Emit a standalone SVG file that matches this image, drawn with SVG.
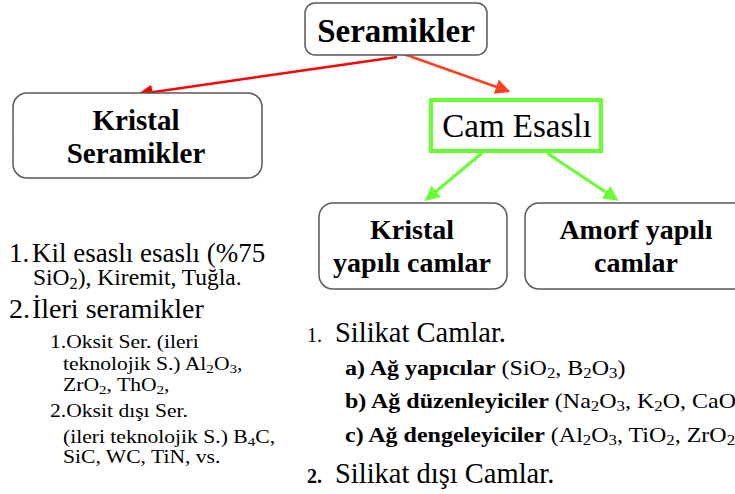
<svg xmlns="http://www.w3.org/2000/svg" width="735" height="494" viewBox="0 0 735 494" font-family="Liberation Serif, serif">
<style>
.box{fill:#fff;stroke:#5a5a5a;stroke-width:1.5}
.bt{font-weight:bold;text-anchor:middle}
.b{font-weight:bold}
.s{font-size:70%}
</style>
<defs>
<marker id="ar" markerWidth="6" markerHeight="6" refX="5" refY="3" orient="auto" markerUnits="strokeWidth"><path d="M0,0 L6,3 L0,6 z" fill="#ff0000"/></marker>
<marker id="ao" markerWidth="6" markerHeight="6" refX="5" refY="3" orient="auto" markerUnits="strokeWidth"><path d="M0,0 L6,3 L0,6 z" fill="#ff4020"/></marker>
<marker id="ag" markerWidth="5" markerHeight="5" refX="4" refY="2.5" orient="auto" markerUnits="strokeWidth"><path d="M0,0 L5,2.5 L0,5 z" fill="#66ff33"/></marker>
</defs>
<g id="connectors">
<line x1="397" y1="57" x2="140" y2="94" stroke="#ff0000" stroke-width="2.5" marker-end="url(#ar)"/>
<line x1="398" y1="52" x2="508" y2="91" stroke="#ff4020" stroke-width="2.5" marker-end="url(#ao)"/>
<line x1="482" y1="153" x2="427" y2="199" stroke="#66ff33" stroke-width="3" marker-end="url(#ag)"/>
<line x1="547" y1="153" x2="616" y2="199" stroke="#66ff33" stroke-width="3" marker-end="url(#ag)"/>
</g>
<g id="seramikler">
<rect class="box" x="305" y="3" width="182" height="52" rx="10"/>
<text class="bt" x="396" y="42" font-size="33">Seramikler</text>
</g>
<g id="kristal-seramikler">
<rect class="box" x="13" y="93" width="249" height="85" rx="14"/>
<text class="bt" x="136" y="130" font-size="29">Kristal</text>
<text class="bt" x="136" y="163" font-size="29">Seramikler</text>
</g>
<g id="cam-esasli">
<rect x="431" y="100" width="170" height="51" fill="#fff" stroke="#66ff33" stroke-width="4"/>
<text x="517" y="137" font-size="33" text-anchor="middle">Cam Esaslı</text>
</g>
<g id="kristal-yapili">
<rect class="box" x="319" y="203" width="188" height="86" rx="14"/>
<text class="bt" x="412" y="239" font-size="28">Kristal</text>
<text class="bt" x="412" y="272" font-size="28">yapılı camlar</text>
</g>
<g id="amorf-yapili">
<rect class="box" x="525" y="203" width="225" height="86" rx="14"/>
<text class="bt" x="636" y="239" font-size="28">Amorf yapılı</text>
<text class="bt" x="636" y="272" font-size="28">camlar</text>
</g>
<g id="left-list">
<text x="9" y="262" font-size="27">1.</text>
<text x="32" y="262" font-size="27">Kil esaslı esaslı (%75</text>
<text x="33" y="285" font-size="23.5">SiO<tspan class="s" dy="4">2</tspan><tspan dy="-4">), Kiremit, Tuğla.</tspan></text>
<text x="9" y="318" font-size="28">2.</text>
<text x="32" y="318" font-size="28">İleri seramikler</text>
<g transform="scale(1.2,1)" font-size="18">
<text x="41.7" y="348">1.Oksit Ser. (ileri</text>
<text x="52.5" y="370">teknolojik S.) Al<tspan class="s" dy="3">2</tspan><tspan dy="-3">O</tspan><tspan class="s" dy="3">3</tspan><tspan dy="-3">,</tspan></text>
<text x="52.5" y="391">ZrO<tspan class="s" dy="3">2</tspan><tspan dy="-3">, ThO</tspan><tspan class="s" dy="3">2</tspan><tspan dy="-3">,</tspan></text>
<text x="41.7" y="417">2.Oksit dışı Ser.</text>
<text x="52.5" y="443">(ileri teknolojik S.) B<tspan class="s" dy="3">4</tspan><tspan dy="-3">C,</tspan></text>
<text x="52.5" y="463">SiC, WC, TiN, vs.</text>
</g>
</g>
<g id="right-list">
<text x="307" y="342" font-size="20">1.</text>
<text x="335" y="342" font-size="28.5">Silikat Camlar.</text>
<g transform="scale(1.2,1)" font-size="20">
<text x="287.5" y="375"><tspan class="b">a) Ağ yapıcılar</tspan> (SiO<tspan class="s" dy="3">2</tspan><tspan dy="-3">, B</tspan><tspan class="s" dy="3">2</tspan><tspan dy="-3">O</tspan><tspan class="s" dy="3">3</tspan><tspan dy="-3">)</tspan></text>
<text x="287.5" y="408"><tspan class="b">b) Ağ düzenleyiciler</tspan> (Na<tspan class="s" dy="3">2</tspan><tspan dy="-3">O</tspan><tspan class="s" dy="3">3</tspan><tspan dy="-3">, K</tspan><tspan class="s" dy="3">2</tspan><tspan dy="-3">O, CaO)</tspan></text>
<text x="287.5" y="442"><tspan class="b">c) Ağ dengeleyiciler</tspan> (Al<tspan class="s" dy="3">2</tspan><tspan dy="-3">O</tspan><tspan class="s" dy="3">3</tspan><tspan dy="-3">, TiO</tspan><tspan class="s" dy="3">2</tspan><tspan dy="-3">, ZrO</tspan><tspan class="s" dy="3">2</tspan><tspan dy="-3">)</tspan></text>
</g>
<text x="307" y="483" font-size="20" class="b">2.</text>
<text x="335" y="483" font-size="28.5">Silikat dışı Camlar.</text>
</g>
</svg>
